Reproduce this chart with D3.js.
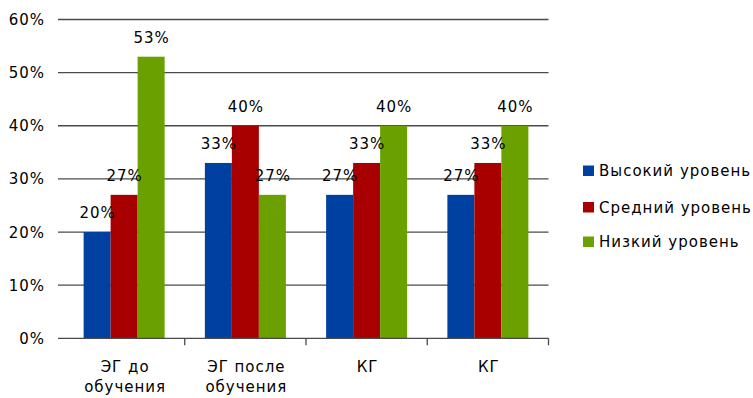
<!DOCTYPE html>
<html>
<head>
<meta charset="utf-8">
<script src="https://cdn.jsdelivr.net/npm/d3@7"></script>
<style>
  body { margin: 0; background: #fff; }
  svg { display: block; }
  text { font-family: "DejaVu Sans", sans-serif; font-size: 15px; fill: #000; letter-spacing: 1px; }
</style>
</head>
<body>
<svg id="chart" width="753" height="398"></svg>
<script>
// Category labels (two-line labels split on "\n")
const categories = ["ЭГ до\nобучения", "ЭГ после\nобучения", "КГ", "КГ"];
const seriesNames = ["Высокий уровень", "Средний уровень", "Низкий уровень"];
const highLevel   = [0.20, 0.33, 0.27, 0.27];
const middleLevel = [0.27, 0.40, 0.33, 0.33];
const lowLevel    = [0.53, 0.27, 0.40, 0.40];
const yTicks = [0, 0.1, 0.2, 0.3, 0.4, 0.5, 0.6];
const colors = ["#0040a0", "#a80000", "#6aa000"];

const seriesValues = [highLevel, middleLevel, lowLevel];

const svg = d3.select("#chart");
const plotLeft = 58, plotRight = 548.5, plotTop = 19.5, plotBottom = 338.3;

const x = d3.scaleBand()
  .domain(d3.range(categories.length))
  .range([63.5, plotRight])
  .padding(0);

const groupWidth = 81;
const xInner = d3.scaleBand()
  .domain(d3.range(seriesNames.length))
  .range([0, groupWidth]);

const y = d3.scaleLinear().domain([0, 0.6]).range([plotBottom, plotTop]);

// Horizontal gridlines
svg.append("g")
  .selectAll("line")
  .data(yTicks.filter(t => t > 0))
  .join("line")
  .attr("x1", plotLeft).attr("x2", plotRight)
  .attr("y1", d => y(d)).attr("y2", d => y(d))
  .attr("stroke", "#4a4a4a")
  .attr("stroke-width", 1.3);

// Y tick labels
svg.append("g")
  .selectAll("text")
  .data(yTicks)
  .join("text")
  .attr("x", 45)
  .attr("y", d => y(d) + 5.5)
  .attr("text-anchor", "end")
  .text(d => d3.format(".0%")(d));

// Bars
const groups = svg.append("g")
  .selectAll("g")
  .data(categories.map((c, i) => i))
  .join("g")
  .attr("transform", i => `translate(${x(i) + (x.bandwidth() - groupWidth) / 2},0)`);

groups.selectAll("rect")
  .data(i => seriesValues.map((vals, s) => ({ s, v: vals[i] })))
  .join("rect")
  .attr("x", d => xInner(d.s))
  .attr("width", xInner.bandwidth())
  .attr("y", d => y(d.v))
  .attr("height", d => plotBottom - y(d.v))
  .attr("fill", d => colors[d.s]);

// Value labels above bars
groups.selectAll("text.val")
  .data(i => seriesValues.map((vals, s) => ({ s, v: vals[i] })))
  .join("text")
  .attr("class", "val")
  .attr("x", d => xInner(d.s) + xInner.bandwidth() / 2 + 0.5)
  .attr("y", d => y(d.v) - 14)
  .attr("text-anchor", "middle")
  .text(d => d3.format(".0%")(d.v));

// Category axis line and ticks
svg.append("line")
  .attr("x1", plotLeft).attr("x2", plotRight)
  .attr("y1", plotBottom).attr("y2", plotBottom)
  .attr("stroke", "#4a4a4a").attr("stroke-width", 1.3);

svg.append("g")
  .selectAll("line")
  .data(d3.range(1, categories.length + 1))
  .join("line")
  .attr("x1", i => x.range()[0] + i * x.bandwidth())
  .attr("x2", i => x.range()[0] + i * x.bandwidth())
  .attr("y1", plotBottom).attr("y2", plotBottom + 7)
  .attr("stroke", "#4a4a4a").attr("stroke-width", 1.3);

// Category labels
svg.append("g")
  .selectAll("text")
  .data(categories.map((c, i) => ({ c, i })))
  .join("text")
  .attr("text-anchor", "middle")
  .attr("y", 371.5)
  .each(function (d) {
    const t = d3.select(this);
    d.c.split("\n").forEach((line, k) => {
      t.append("tspan")
        .attr("x", x(d.i) + x.bandwidth() / 2 + 1)
        .attr("dy", k === 0 ? 0 : 20.5)
        .text(line);
    });
  });

// Legend
const legendY = [171, 207.5, 242];
const legend = svg.append("g")
  .selectAll("g")
  .data(seriesNames.map((n, s) => ({ n, s })))
  .join("g")
  .attr("transform", d => `translate(583,${legendY[d.s]})`);

legend.append("rect")
  .attr("x", 0).attr("y", -5.5)
  .attr("width", 11).attr("height", 10.5)
  .attr("fill", d => colors[d.s]);

legend.append("text")
  .attr("x", 16).attr("y", 5)
  .text(d => d.n);
</script>
</body>
</html>
